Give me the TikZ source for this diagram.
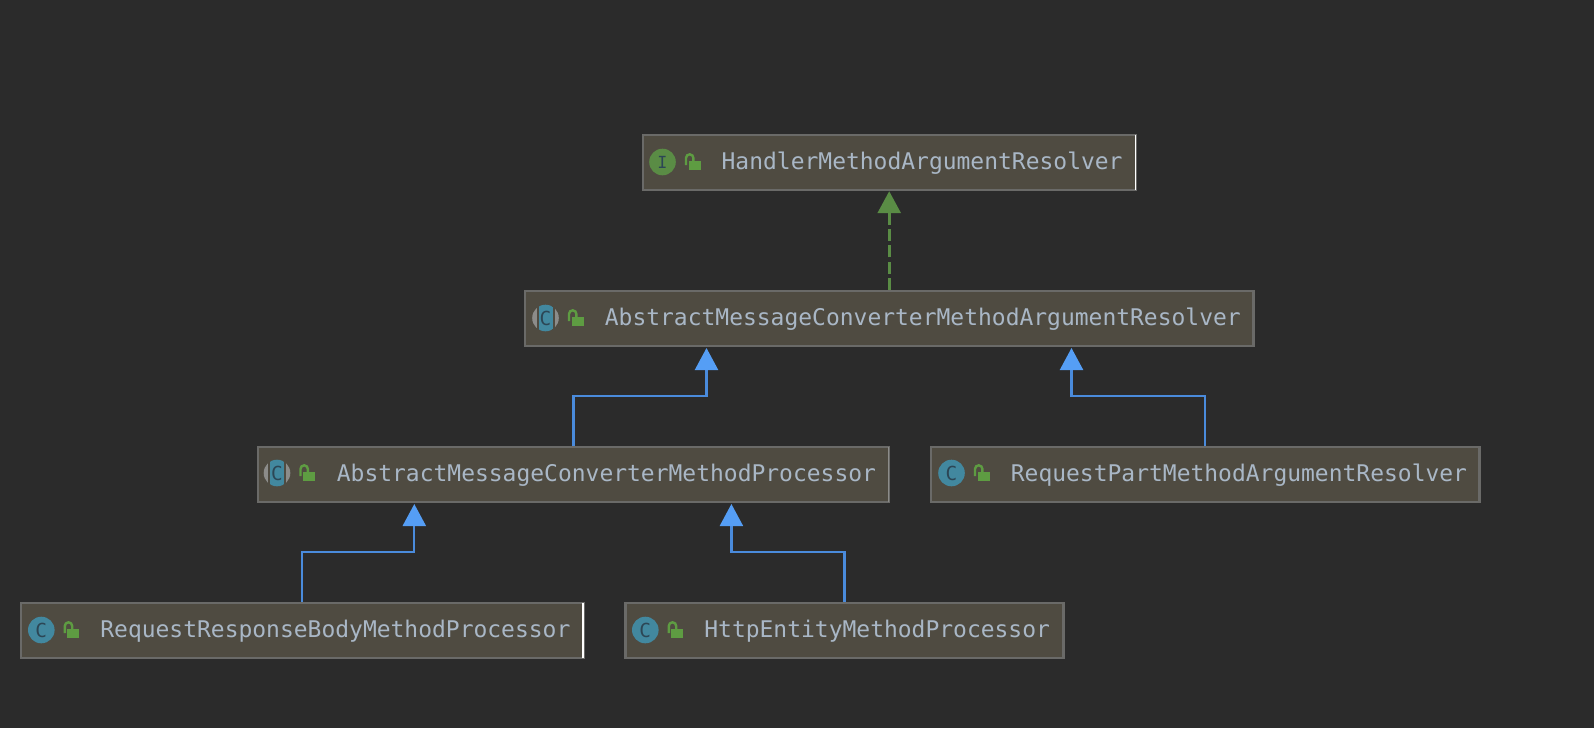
\documentclass[tikz,border=0pt]{standalone}
\usepackage{fontspec}
\setmonofont{DejaVu Sans Mono}
\usepackage{tikz}
\usetikzlibrary{arrows.meta,positioning}
\definecolor{ijback}{HTML}{2B2B2B}
\definecolor{ijfill}{HTML}{4F4B41}
\definecolor{ijline}{HTML}{6A6A68}
\definecolor{ijtext}{HTML}{A9B7C6}
\definecolor{ijteal}{HTML}{42889F}
\definecolor{ijgreen}{HTML}{5A8C45}
\definecolor{ijlock}{HTML}{5E9C42}
\definecolor{ijblue}{HTML}{4A8BDC}
\definecolor{ijtip}{HTML}{559EF5}
\definecolor{ijdark}{HTML}{2C4655}
\definecolor{ijgrey}{HTML}{8C8C8A}

\begin{document}
\begin{tikzpicture}[
  x=0.02cm,y=-0.02cm,
  umlbox/.style={draw=ijline,fill=ijfill,line width=0.048cm,minimum height=1.1cm,inner sep=0pt},
  txt/.style={anchor=base west,inner sep=0pt,text=ijtext,font=\ttfamily\fontsize{13.07}{16}\selectfont},
  letter/.style={inner sep=0pt,text=ijdark,font=\ttfamily\fontsize{11}{12}\selectfont},
  impl/.style={-{Triangle[length=0.44cm,width=0.46cm]},ijgreen,line width=0.055cm,dash pattern=on 0.24cm off 0.085cm},
  extd/.style={-{Triangle[length=0.44cm,width=0.46cm,color=ijtip]},ijblue,line width=0.046cm},
  lockpic/.pic={
    \fill[ijlock] (26,-1.5) rectangle (38,8);
    \draw[ijlock,line width=0.048cm] (23.5,3) -- (23.5,-4) arc[start angle=180,end angle=360,radius=3.7] -- (30.9,-1);
  },
  classpic/.pic={
    \fill[ijteal] (0,0) circle[radius=13.3];
    \node[letter] (-c) at (0,0) {C};
    \pic {lockpic};
  },
  ifacepic/.pic={
    \fill[ijgreen] (0,0) circle[radius=13.3];
    \node[letter,font=\ttfamily\fontsize{9.5}{11}\selectfont] (-i) at (0,0) {I};
    \pic {lockpic};
  },
  abstractpic/.pic={
    \fill[ijgrey] (0,0) circle[radius=13.3];
    \fill[ijfill] (-9,-14) rectangle (9,14);
    \begin{scope}
      \clip (0,0) circle[radius=13.3];
      \fill[ijteal] (-7,-14) rectangle (7,14);
    \end{scope}
    \node[letter] (-c) at (0,0) {C};
    \pic {lockpic};
  }]
  \path[fill=ijback,use as bounding box] (0,0) rectangle (1594,728);
  % boxes
  \node[umlbox,minimum width=9.86cm]  (handler)  at (889.5,162.5)  {};
  \node[umlbox,minimum width=14.57cm] (abstract) at (889.2,318.5)  {};
  \node[umlbox,minimum width=12.62cm] (amcp)     at (573.5,474.5)  {};
  \node[umlbox,minimum width=10.97cm] (part)     at (1205.2,474.5) {};
  \node[umlbox,minimum width=11.25cm] (body)     at (302.3,630.5)  {};
  \node[umlbox,minimum width=8.76cm]  (entity)   at (844.5,630.5)  {};
  % lit right edges
  \draw[white,line width=0.03cm] ([shift={(-1.5,1)}]handler.north east) -- ([shift={(-1.5,-1)}]handler.south east);
  \draw[white,line width=0.03cm] ([shift={(-1.5,1)}]body.north east) -- ([shift={(-1.5,-1)}]body.south east);
  \draw[ijgrey,line width=0.02cm] ([shift={(-2,1)}]amcp.north east) -- ([shift={(-2,-1)}]amcp.south east);
  % icons
  \pic (ihandler)  at (662.5,162) {ifacepic};
  \pic (iabstract) at (545.5,318) {abstractpic};
  \pic (iamcp)     at (277,473)   {abstractpic};
  \pic (ipart)     at (951.5,473) {classpic};
  \pic (ibody)     at (41.3,630)  {classpic};
  \pic (ientity)   at (645.3,630) {classpic};
  % names
  \node[txt] (thandler)  at (721.3,169.5)  {HandlerMethodArgumentResolver};
  \node[txt] (tabstract) at (604.5,325.5)  {AbstractMessageConverterMethodArgumentResolver};
  \node[txt] (tamcp)     at (336.5,481.5)  {AbstractMessageConverterMethodProcessor};
  \node[txt] (tpart)     at (1010.5,481.5) {RequestPartMethodArgumentResolver};
  \node[txt] (tbody)     at (100,637.5)    {RequestResponseBodyMethodProcessor};
  \node[txt] (tentity)   at (704,637.5)    {HttpEntityMethodProcessor};
  % ports under the parents
  \coordinate (p1) at (706.5,348);
  \coordinate (p2) at (1071.5,348);
  \coordinate (p3) at (414.3,504);
  \coordinate (p4) at (731.4,504);
  % arrows
  \draw[impl] (abstract.north) -- (abstract.north |- handler.south);
  \draw[extd] (amcp.north) -- ++(0,-50) -| (p1);
  \draw[extd] (part.north) -- ++(0,-50) -| (p2);
  \draw[extd] (body.north) -- ++(0,-50) -| (p3);
  \draw[extd] (entity.north) -- ++(0,-50) -| (p4);
\end{tikzpicture}
\end{document}
